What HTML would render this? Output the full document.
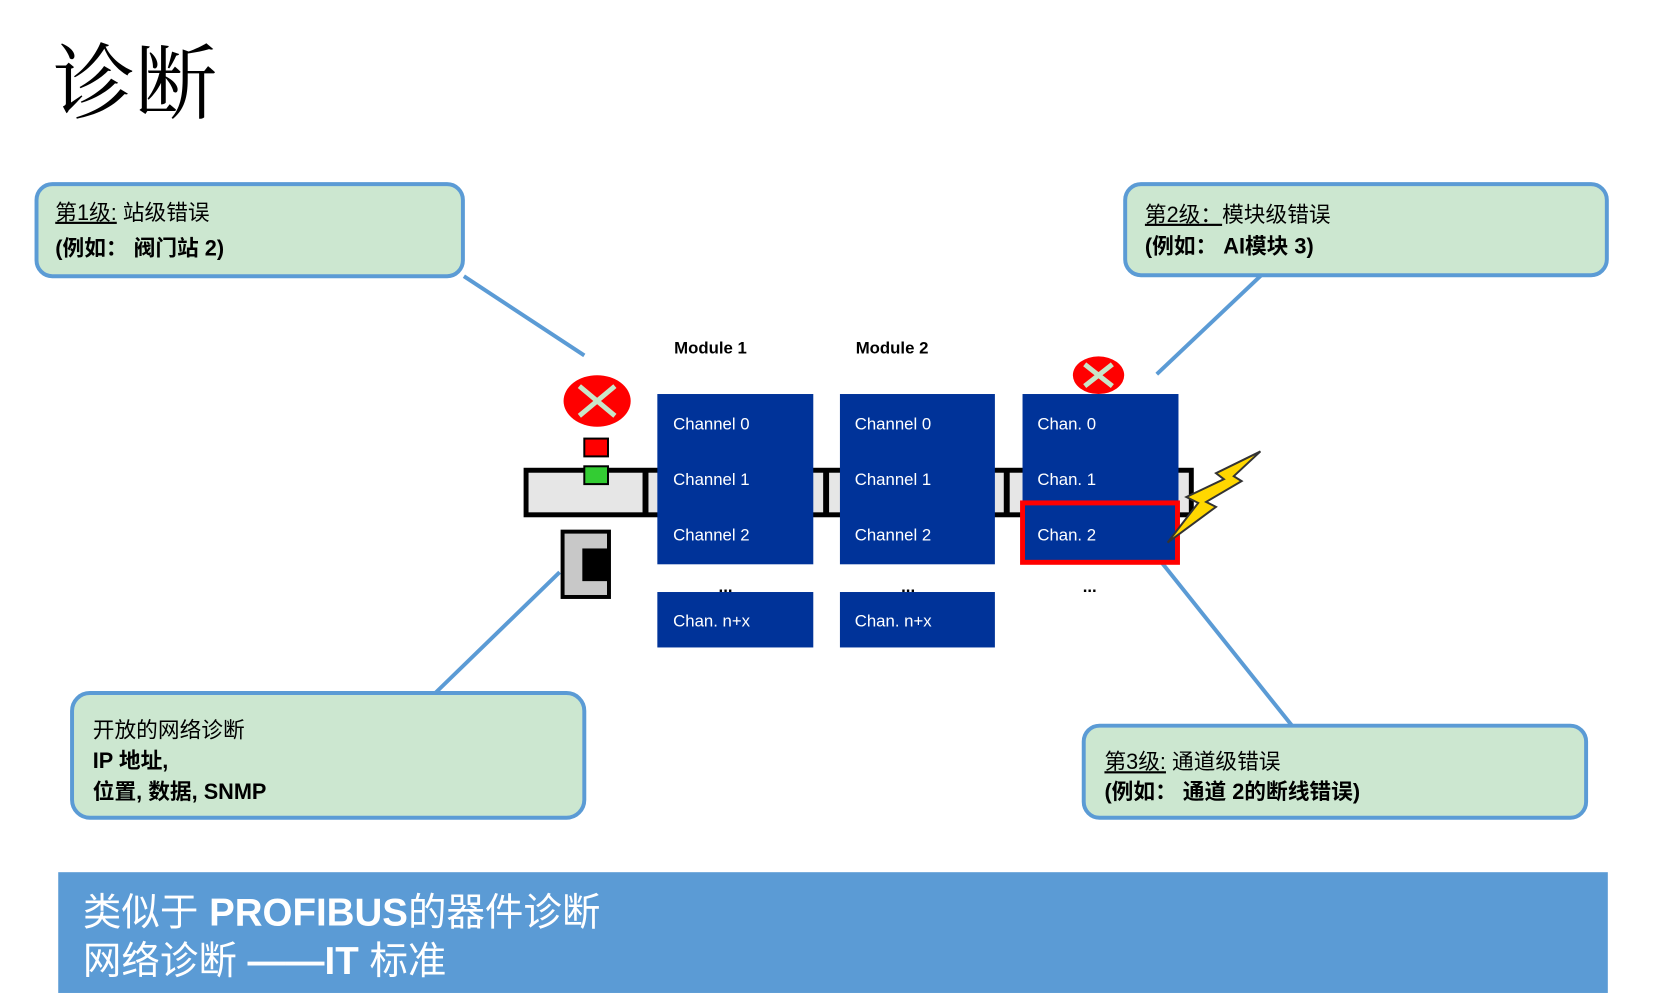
<!DOCTYPE html>
<html><head><meta charset="utf-8"><style>
html,body{margin:0;padding:0;background:#fff;}
svg{display:block;}
text{font-family:"Liberation Sans","Noto Sans CJK SC",sans-serif;}
</style></head><body>
<svg width="1664" height="1007" viewBox="0 0 1664 1007" xmlns="http://www.w3.org/2000/svg">
<text x="53" y="112" style="font-family:'Liberation Serif','Noto Serif CJK SC',serif" font-size="82">诊断</text>
<g transform="scale(0.987,0.99)">
<!-- connector lines -->
<g stroke="#5b9bd5" stroke-width="4">
<line x1="470" y1="279" x2="592" y2="359"/>
<line x1="1279" y1="277" x2="1172" y2="378"/>
<line x1="441" y1="700" x2="567" y2="578"/>
<line x1="1309" y1="733" x2="1172" y2="562"/>
</g>

<!-- callout boxes -->
<g fill="#cce7d0" stroke="#5b9bd5" stroke-width="4">
<rect x="37" y="186" width="432" height="93" rx="16"/>
<rect x="1140" y="186" width="488" height="92" rx="16"/>
<rect x="73" y="700" width="519" height="126" rx="18"/>
<rect x="1098" y="733" width="509" height="93" rx="16"/>
</g>
<g font-size="22" fill="#000">
<text x="56" y="222"><tspan text-decoration="underline">第1级:</tspan> 站级错误</text>
<text x="56" y="258" font-weight="bold">(例如： 阀门站 2)</text>
<text x="1160" y="224"><tspan text-decoration="underline">第2级：</tspan>模块级错误</text>
<text x="1160" y="256" font-weight="bold">(例如： AI模块 3)</text>
<text x="94" y="745">开放的网络诊断</text>
<text x="94" y="776" font-weight="bold">IP 地址,</text>
<text x="94" y="807" font-weight="bold">位置, 数据, SNMP</text>
<text x="1119" y="777"><tspan text-decoration="underline">第3级:</tspan> 通道级错误</text>
<text x="1119" y="807" font-weight="bold">(例如： 通道 2的断线错误)</text>
</g>

<!-- rail -->
<rect x="533" y="475" width="674" height="45" fill="#e6e6e6" stroke="#000" stroke-width="5"/>
<g fill="#000">
<rect x="651" y="475" width="6" height="45"/>
<rect x="834" y="475" width="6" height="45"/>
<rect x="1017" y="475" width="6" height="45"/>
</g>

<!-- modules -->
<g fill="#003399">
<rect x="666" y="398" width="158" height="172"/>
<rect x="851" y="398" width="157" height="172"/>
<rect x="1036" y="398" width="158" height="172"/>
<rect x="666" y="598" width="158" height="56"/>
<rect x="851" y="598" width="157" height="56"/>
</g>
<rect x="1036" y="508" width="157" height="60" fill="none" stroke="#ff0000" stroke-width="5"/>
<g font-size="17" fill="#fff">
<text x="682" y="434">Channel  0</text>
<text x="682" y="490">Channel 1</text>
<text x="682" y="546">Channel 2</text>
<text x="682" y="633">Chan. n+x</text>
<text x="866" y="434">Channel  0</text>
<text x="866" y="490">Channel 1</text>
<text x="866" y="546">Channel 2</text>
<text x="866" y="633">Chan. n+x</text>
<text x="1051" y="434">Chan. 0</text>
<text x="1051" y="490">Chan. 1</text>
<text x="1051" y="546">Chan. 2</text>
</g>
<g font-size="17" fill="#000" font-weight="bold">
<text x="683" y="357">Module 1</text>
<text x="867" y="357">Module 2</text>
<text x="728" y="598">...</text>
<text x="913" y="598">...</text>
<text x="1097" y="598">...</text>
</g>

<!-- error icons -->
<ellipse cx="605" cy="405" rx="34" ry="26" fill="#ff0000"/>
<g stroke="#c8e6c9" stroke-width="5"><line x1="587" y1="390" x2="623" y2="420"/><line x1="623" y1="390" x2="587" y2="420"/></g>
<ellipse cx="1113" cy="379" rx="26" ry="19" fill="#ff0000"/>
<g stroke="#c8e6c9" stroke-width="5"><line x1="1099" y1="368" x2="1127" y2="390"/><line x1="1127" y1="368" x2="1099" y2="390"/></g>

<rect x="592" y="443" width="24" height="18" fill="#ff0000" stroke="#000" stroke-width="2"/>
<rect x="592" y="471" width="24" height="18" fill="#33cc33" stroke="#000" stroke-width="2"/>

<!-- connector -->
<rect x="570" y="537" width="47" height="66" fill="#c8c8c8" stroke="#000" stroke-width="4"/>
<rect x="590" y="554" width="27" height="33" fill="#000"/>

<!-- lightning -->
<polygon points="1277,456 1232,478 1240,484 1202,502 1214,508 1183,548 1232,512 1222,507 1258,486 1250,481" fill="#ffd700" stroke="#333" stroke-width="2"/>

<!-- banner -->
<rect x="59" y="881" width="1570" height="122" fill="#5b9bd5"/>
<g fill="#fff" font-size="39">
<text x="84" y="935">类似于 <tspan font-weight="bold">PROFIBUS</tspan>的器件诊断</text>
<text x="84" y="984">网络诊断 <tspan font-weight="bold">——IT</tspan> 标准</text>
</g>
</g>
</svg>
</body></html>
